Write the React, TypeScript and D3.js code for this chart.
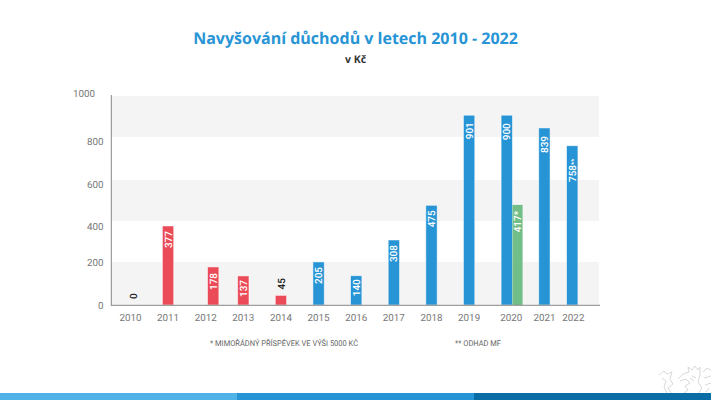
import * as d3 from "d3";

const width = 711;
const height = 400;

const years = ["2010", "2011", "2012", "2013", "2014", "2015", "2016", "2017", "2018", "2019", "2020", "2021", "2022"];
// bar heights read against the axis, printed labels are kept apart
const barValues = [0, 378, 182, 139, 46, 206, 140, 311, 477, 908, 908, 847, 762];
const barLabels = ["0", "377", "178", "137", "45", "205", "140", "308", "475", "901", "900", "839", "758**"];
const barColors = ["red", "red", "red", "red", "red", "blue", "blue", "blue", "blue", "blue", "blue", "blue", "blue"];
// the source slide has uneven spacing, so slots are not whole numbers everywhere
const barSlots = [0.07, 1, 2.2, 3, 4, 5, 6, 7, 8, 9, 10, 11, 11.74];
const yearSlots = [0, 1, 2, 3, 4, 5, 6, 7, 8, 9, 10.12, 11, 11.77];
// gap between bar top and its label
const labelGaps = [6, 5, 6, 4, 6, 5, 3.5, 5, 5, 7, 8, 8, 13];

const extraValue = 479;
const extraLabel = "417*";
const extraSlot = 10.27;

const bandEdges = [0, 206, 402, 598, 804, 1000];
const yTicks = ["0", "200", "400", "600", "800", "1000"];
const yTickSpots = [0, 201, 375, 575, 780, 1010];

const footerColors = ["#4fb3e8", "#2794d5", "#0b6da6"];
const colors: Record<string, string> = { red: "#eb4b58", blue: "#2794d5", green: "#72be89" };

const x = d3.scaleLinear().domain([0, 11]).range([130.4, 544.4]);
const y = d3.scaleLinear().domain([0, 1000]).range([305, 96]);
const barWidth = x(0.3) - x(0);
const footerX = d3.scaleBand<number>().domain([0, 1, 2]).range([0, width]);

const App = () => {
  return (
    <svg
      width={width}
      height={height}
      textRendering="geometricPrecision"
      style={{ position: "absolute", left: 0, top: 0, display: "block", background: "#fff" }}
    >
      <text x={355.5} y={44} textAnchor="middle" fontFamily="Open Sans" fontWeight="700" fontSize={16} fill="#2794d5">
        Navyšování důchodů v letech 2010 - 2022
      </text>
      <text x={355.5} y={63} textAnchor="middle" fontFamily="Open Sans" fontWeight="700" fontSize={10.5} fill="#333">
        v Kč
      </text>

      {/* alternating bands */}
      {bandEdges.slice(1).map((top, i) =>
        i % 2 === 0 ? (
          <rect key={top} x={111} width={488} y={y(top)} height={y(bandEdges[i]) - y(top)} fill="#f4f4f4" />
        ) : null
      )}

      {barValues.map((v, i) => (
        <rect
          key={years[i]}
          x={x(barSlots[i]) - barWidth / 2}
          y={y(v)}
          width={barWidth}
          height={y(0) - y(v)}
          fill={colors[barColors[i]]}
          stroke="#fff"
          strokeOpacity={0.6}
          strokeWidth={v > 0 ? 0.8 : 0}
        />
      ))}
      <rect
        x={x(10) + barWidth / 2}
        y={y(extraValue)}
        width={x(extraSlot) - x(10)}
        height={y(0) - y(extraValue)}
        fill={colors.green}
      />

      {barValues.map((v, i) => {
        const outside = v < 100;
        const ly = outside ? y(v) - labelGaps[i] : y(v) + labelGaps[i];
        return (
          <text
            key={years[i]}
            transform={`translate(${x(barSlots[i]) + 3.6},${ly}) rotate(-90)`}
            textAnchor={outside ? "start" : "end"}
            fontFamily="Roboto"
            fontWeight="500"
            fontSize={10}
            fill={outside ? "#222" : "#fff"}
          >
            {barLabels[i].length > 3 ? (
              <>
                {barLabels[i].slice(0, 3)}
                <tspan fontSize={7}>{barLabels[i].slice(3)}</tspan>
              </>
            ) : (
              barLabels[i]
            )}
          </text>
        );
      })}
      <text
        transform={`translate(${x(10) + barWidth / 2 + 8.6},${y(extraValue) + 6}) rotate(-90)`}
        textAnchor="end"
        fontFamily="Roboto"
        fontWeight="500"
        fontSize={10}
        fill="#fff"
      >
        {extraLabel}
      </text>

      {/* axes */}
      <line x1={111.3} x2={111.3} y1={95} y2={305.5} stroke="#888" strokeWidth={1} />
      <line x1={111} x2={600} y1={305.3} y2={305.3} stroke="#888" strokeWidth={1} />

      {yTicks.map((t, i) => (
        <text
          key={t}
          x={t === "1000" ? 95 : 103.5}
          y={y(yTickSpots[i]) + 3.5}
          textAnchor="end"
          fontFamily="Roboto"
          fontSize={9.8}
          fill="#777"
        >
          {t}
        </text>
      ))}
      {years.map((t, i) => (
        <text key={t} x={x(yearSlots[i])} y={321} textAnchor="middle" fontFamily="Roboto" fontSize={9.8} fill="#777">
          {t}
        </text>
      ))}

      <text x={210} y={345.5} fontFamily="Roboto" fontSize={8} fill="#666" textLength={148} lengthAdjust="spacingAndGlyphs">
        * MIMOŘÁDNÝ PŘÍSPĚVEK VE VÝŠI 5000 KČ
      </text>
      <text x={455} y={345.5} fontFamily="Roboto" fontSize={8} fill="#666" textLength={46} lengthAdjust="spacingAndGlyphs">
        ** ODHAD MF
      </text>

      {/* rough outline of the lion emblem */}
      <g fill="none" stroke="#d4d4d4" strokeWidth={0.9} strokeLinejoin="round">
        <path d="M659 375 L664 371 L667 374 L672 372 L670 379 L673 384 L668 388 L671 393" />
        <path d="M662 378 L666 381 L664 387 L667 393" />
        <path d="M678 379 L683 374 L689 372 L688 367 L692 370 L695 366 L698 370 L700 367 L700 375 L698 382 L702 388 L699 393" />
        <path d="M680 381 L686 379 L690 383 L685 386 L688 390 L684 393" />
        <path d="M692 376 L696 378 M690 378 L694 381" />
        <path d="M703 372 L707 368 L711 370 M704 378 L711 376 M705 385 L711 383 M706 392 L709 388" />
      </g>

      {footerColors.map((c, i) => (
        <rect key={c} x={footerX(i)} y={393} width={footerX.bandwidth()} height={7} fill={c} />
      ))}
    </svg>
  );
};

export default App;
